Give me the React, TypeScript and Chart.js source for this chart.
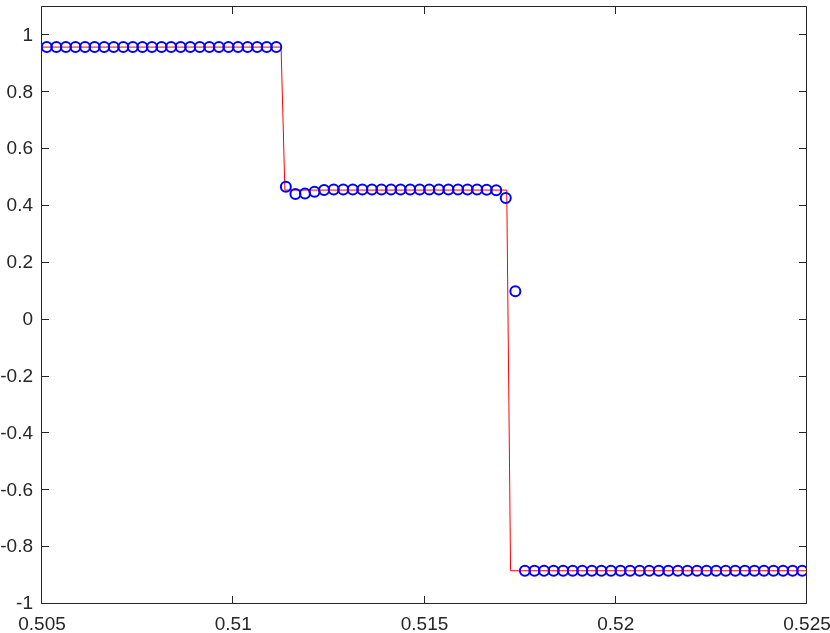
import React, { useEffect, useRef } from "react";
import { Chart, registerables } from "chart.js";

Chart.register(...registerables);

// Numerical solution (cell centres)
const cellX: number[] = [
  0.505125, 0.505375, 0.505625, 0.505875, 0.506125, 0.506375, 0.506625, 0.506875,
  0.507125, 0.507375, 0.507625, 0.507875, 0.508125, 0.508375, 0.508625, 0.508875,
  0.509125, 0.509375, 0.509625, 0.509875, 0.510125, 0.510375, 0.510625, 0.510875,
  0.511125, 0.511375, 0.511625, 0.511875, 0.512125, 0.512375, 0.512625, 0.512875,
  0.513125, 0.513375, 0.513625, 0.513875, 0.514125, 0.514375, 0.514625, 0.514875,
  0.515125, 0.515375, 0.515625, 0.515875, 0.516125, 0.516375, 0.516625, 0.516875,
  0.517125, 0.517375, 0.517625, 0.517875, 0.518125, 0.518375, 0.518625, 0.518875,
  0.519125, 0.519375, 0.519625, 0.519875, 0.520125, 0.520375, 0.520625, 0.520875,
  0.521125, 0.521375, 0.521625, 0.521875, 0.522125, 0.522375, 0.522625, 0.522875,
  0.523125, 0.523375, 0.523625, 0.523875, 0.524125, 0.524375, 0.524625, 0.524875,
];
const cellY: number[] = [
  0.959, 0.959, 0.959, 0.959, 0.959, 0.959, 0.959, 0.959,
  0.959, 0.959, 0.959, 0.959, 0.959, 0.959, 0.959, 0.959,
  0.959, 0.959, 0.959, 0.959, 0.959, 0.959, 0.959, 0.959,
  0.959, 0.468, 0.442, 0.444, 0.450, 0.456, 0.458, 0.458,
  0.458, 0.458, 0.458, 0.458, 0.458, 0.458, 0.458, 0.458,
  0.458, 0.458, 0.458, 0.458, 0.458, 0.458, 0.457, 0.455,
  0.428, 0.100, -0.883, -0.883, -0.883, -0.883, -0.883, -0.883,
  -0.883, -0.883, -0.883, -0.883, -0.883, -0.883, -0.883, -0.883,
  -0.883, -0.883, -0.883, -0.883, -0.883, -0.883, -0.883, -0.883,
  -0.883, -0.883, -0.883, -0.883, -0.883, -0.883, -0.883, -0.883,
];

// Exact (reference) solution
const exactX: number[] = [0.505, 0.51125, 0.51135, 0.51715, 0.51725, 0.525];
const exactY: number[] = [0.959, 0.959, 0.456, 0.456, -0.883, -0.883];

const xTicks: number[] = [0.505, 0.51, 0.515, 0.52, 0.525];
const yTicks: number[] = [-1, -0.8, -0.6, -0.4, -0.2, 0, 0.2, 0.4, 0.6, 0.8, 1];

const AXIS_COLOR = "#262626";
const TICK_LEN = 7.5;

const boxPlugin = {
  id: "matlabBox",
  afterDatasetsDraw(chart: any) {
    const { ctx, chartArea, scales } = chart;
    const { left, right, top, bottom } = chartArea;
    ctx.save();
    ctx.strokeStyle = AXIS_COLOR;
    ctx.lineWidth = 1;
    ctx.beginPath();
    const l = Math.round(left) - 0.5;
    const r = Math.round(right) - 0.5;
    const t = Math.round(top) - 0.5;
    const b = Math.round(bottom) - 0.5;
    ctx.rect(l, t, r - l, b - t);
    for (const v of xTicks) {
      const px = Math.round(scales.x.getPixelForValue(v)) - 0.5;
      ctx.moveTo(px, b);
      ctx.lineTo(px, b - TICK_LEN);
      ctx.moveTo(px, t);
      ctx.lineTo(px, t + TICK_LEN);
    }
    for (const v of yTicks) {
      const py = Math.round(scales.y.getPixelForValue(v)) - 0.5;
      ctx.moveTo(l, py);
      ctx.lineTo(l + TICK_LEN, py);
      ctx.moveTo(r, py);
      ctx.lineTo(r - TICK_LEN, py);
    }
    ctx.stroke();
    ctx.restore();
  },
};

function fmt(v: number): string {
  return String(Number(v.toFixed(4)));
}

function zeroPad(scale: any) {
  scale.paddingTop = 0;
  scale.paddingBottom = 0;
  scale.paddingLeft = 0;
  scale.paddingRight = 0;
}

export default function App() {
  const canvasRef = useRef<HTMLCanvasElement | null>(null);

  useEffect(() => {
    const canvas = canvasRef.current;
    if (!canvas) return;
    const font = { family: "'Liberation Sans', Arial, Helvetica, sans-serif", size: 19 };
    const chart = new Chart(canvas, {
      type: "scatter",
      data: {
        datasets: [
          {
            label: "numerical",
            data: cellX.map((x, i) => ({ x, y: cellY[i] })),
            showLine: false,
            pointStyle: "circle",
            pointRadius: 5,
            pointBorderWidth: 2,
            pointBorderColor: "#0000ff",
            pointBackgroundColor: "rgba(0,0,0,0)",
            borderColor: "#0000ff",
            backgroundColor: "rgba(0,0,0,0)",
            order: 0,
          },
          {
            label: "exact",
            data: exactX.map((x, i) => ({ x, y: exactY[i] })),
            showLine: true,
            pointRadius: 0,
            borderColor: "#ff0000",
            borderWidth: 1,
            backgroundColor: "#ff0000",
            order: 1,
          },
        ],
      },
      options: {
        responsive: false,
        animation: false,
        devicePixelRatio: 1,
        layout: { padding: { top: 1, right: 23, left: 0, bottom: 0 } },
        plugins: {
          legend: { display: false },
          tooltip: { enabled: false },
        },
        scales: {
          x: {
            type: "linear",
            min: 0.505,
            max: 0.525,
            grid: { display: false, drawTicks: false },
            border: { display: false },
            afterBuildTicks: (scale: any) => {
              scale.ticks = xTicks.map((v) => ({ value: v }));
            },
            afterFit: (scale: any) => {
              scale.height = 29;
              zeroPad(scale);
            },
            ticks: {
              autoSkip: false,
              maxRotation: 0,
              minRotation: 0,
              padding: 9,
              color: AXIS_COLOR,
              font,
              callback: (v: any) => fmt(Number(v)),
            },
          },
          y: {
            type: "linear",
            min: -1,
            max: 1.1,
            grid: { display: false, drawTicks: false },
            border: { display: false },
            afterBuildTicks: (scale: any) => {
              scale.ticks = yTicks.map((v) => ({ value: v }));
            },
            afterFit: (scale: any) => {
              scale.width = 42;
              zeroPad(scale);
            },
            ticks: {
              autoSkip: false,
              padding: 9,
              color: AXIS_COLOR,
              font,
              callback: (v: any) => fmt(Number(v)),
            },
          },
        },
      },
      plugins: [boxPlugin],
    } as any);
    return () => chart.destroy();
  }, []);

  return (
    <div style={{ position: "absolute", left: 0, top: 0, width: 830, height: 633, background: "#fff" }}>
      <canvas ref={canvasRef} width={830} height={633} style={{ display: "block" }} />
    </div>
  );
}
